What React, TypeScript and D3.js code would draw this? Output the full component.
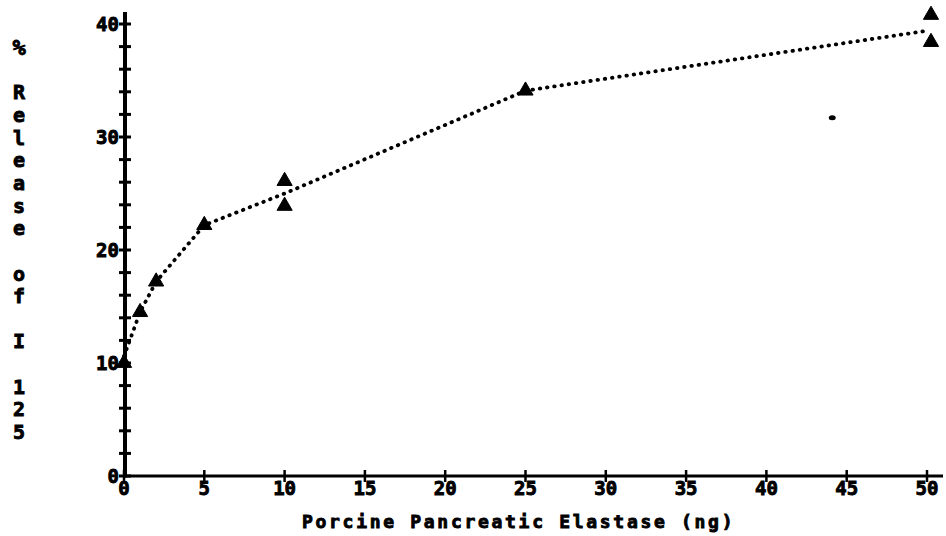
import React from "react";
import * as d3 from "d3";

// Elastase dose (ng) for each replicate measurement
const doseNg = [0, 1, 2, 5, 10, 10, 25, 50, 50];
// % release of I125 for each replicate
const releasePct = [10.0, 14.5, 17.2, 22.2, 26.1, 23.9, 34.1, 40.8, 38.4];

// Fitted dose-response curve (dotted line)
const curveDose = [0, 1, 2, 5, 10, 25, 50];
const curveRelease = [10.6, 14.5, 17.2, 22.2, 25.0, 34.1, 39.4];

// Isolated mark on the plot
const strayDose = [44.1];
const strayRelease = [31.7];

const xTicks = [0, 5, 10, 15, 20, 25, 30, 35, 40, 45, 50];
const yLabelTicks = [0, 10, 20, 30, 40];
const yMinorTicks = d3.range(0, 41, 2);

const xTitle = "Porcine Pancreatic Elastase (ng)";
const yTitle = "% Release of I 125";

const W = 946;
const H = 536;
const FONT = "'DejaVu Sans Mono', 'Liberation Mono', monospace";

export default function App() {
  const x = d3.scaleLinear().domain([0, 50]).range([124, 927]);
  const y = d3.scaleLinear().domain([0, 40]).range([476, 24]);

  const curvePts: [number, number][] = curveDose.map((d, i) => [x(d), y(curveRelease[i])]);
  const line = d3.line().curve(d3.curveLinear)(curvePts) || "";
  const tri = d3.symbol().type(d3.symbolTriangle).size(100)() || "";

  const titleChars = yTitle.split("");
  const heavy = { stroke: "#000", strokeWidth: 0.9 };

  return (
    <svg
      width={W}
      height={H}
      style={{ position: "absolute", left: 0, top: 0, background: "#fff" }}
      fontFamily={FONT}
      fontWeight="bold"
    >
      <rect x={0} y={0} width={W} height={H} fill="#fff" />

      {/* Axes */}
      <line x1={x(0) + 1} x2={x(0) + 1} y1={12} y2={y(0) + 1.5} stroke="#000" strokeWidth={4} />
      <line x1={x(0)} x2={943} y1={y(0)} y2={y(0)} stroke="#000" strokeWidth={3} />

      {/* Y ticks */}
      {yMinorTicks.map((t) => (
        <line key={"yt" + t} x1={x(0) - 5} x2={x(0) + 7} y1={y(t)} y2={y(t)} stroke="#000" strokeWidth={3} />
      ))}
      {yLabelTicks.map((t) => (
        <text key={"yl" + t} x={x(0) - 5} y={y(t)} textAnchor="end" dominantBaseline="central" fontSize={19} {...heavy}>
          {t}
        </text>
      ))}

      {/* X ticks */}
      {xTicks.map((t) => (
        <line key={"xt" + t} x1={x(t)} x2={x(t)} y1={y(0) - 6} y2={y(0) + 6} stroke="#000" strokeWidth={2.5} />
      ))}
      {xTicks.map((t) => (
        <text key={"xl" + t} x={x(t)} y={488} textAnchor="middle" dominantBaseline="central" fontSize={19} {...heavy}>
          {t}
        </text>
      ))}

      {/* Axis titles */}
      <text x={302} y={528} fontSize={18} letterSpacing={2.7} {...heavy}>
        {xTitle}
      </text>
      {titleChars.map((c, i) => (
        <text
          key={"yc" + i}
          x={19}
          y={47 + i * 22.65}
          textAnchor="middle"
          dominantBaseline="central"
          fontSize={c === "%" ? 22 : 20}
          {...heavy}
        >
          {c === " " ? "" : c}
        </text>
      ))}

      {/* Fitted curve */}
      <path
        d={line}
        fill="none"
        stroke="#000"
        strokeWidth={3.8}
        strokeLinecap="round"
        strokeDasharray="0.5 6.8"
      />

      {/* Measurements */}
      {doseNg.map((d, i) => (
        <path
          key={"p" + i}
          d={tri}
          transform={`translate(${x(d) + (d === 50 ? 4 : 0)},${y(releasePct[i])})`}
          fill="#000"
          stroke="#000"
          strokeWidth={1}
          strokeLinejoin="round"
        />
      ))}

      {strayDose.map((d, i) => (
        <ellipse key={"s" + i} cx={x(d)} cy={y(strayRelease[i])} rx={3.5} ry={2.5} fill="#000" />
      ))}
    </svg>
  );
}
